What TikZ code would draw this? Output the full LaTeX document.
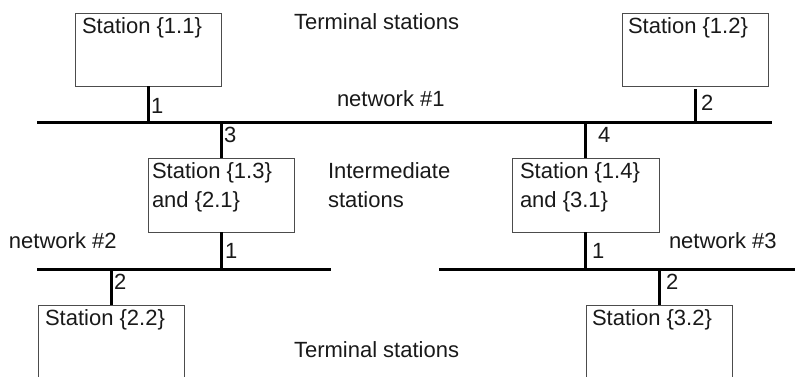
\documentclass[tikz,border=0pt]{standalone}
\usepackage{fontspec}
\setmainfont{Liberation Sans}
\begin{document}
\begin{tikzpicture}[x=1pt,y=-1pt,
  every node/.style={inner sep=0pt,outer sep=0pt},
  txt/.style={anchor=base west,font=\fontsize{22}{29}\selectfont,text=black!90},
  stationbox/.style={draw=black!70,line width=1pt,anchor=north west,minimum width=146pt,minimum height=73pt},
  tallbox/.style={stationbox,minimum height=110pt},
  bus/.style={line width=3pt},
  tap/.style={line width=3pt}]
\clip (0,0) rectangle (795,376);
% boxes
\node[stationbox] (b11) at (75,13) {};
\node[stationbox] (b12) at (622,13) {};
\node[stationbox,minimum width=146pt,minimum height=74pt] (b13) at (148,158) {};
\node[stationbox,minimum width=147pt,minimum height=74pt] (b14) at (512,158) {};
\node[tallbox] (b22) at (38,305) {};
\node[tallbox] (b32) at (586,305) {};
% box texts
\node[txt] (t11) at (82,33) {Station \{1.1\}};
\node[txt] (t12) at (628,33) {Station \{1.2\}};
\node[txt] (t13) at (152,178) {\begin{tabular}[t]{@{}l@{}}Station \{1.3\}\\and \{2.1\}\end{tabular}};
\node[txt] (t14) at (520,178) {\begin{tabular}[t]{@{}l@{}}Station \{1.4\}\\and \{3.1\}\end{tabular}};
\node[txt] (t22) at (45,325) {Station \{2.2\}};
\node[txt] (t32) at (592,325) {Station \{3.2\}};
% network lines
\coordinate (n1w) at (37,122);
\coordinate (n1e) at (772,122);
\coordinate (n2w) at (37,269);
\coordinate (n2e) at (331,269);
\coordinate (n3w) at (439,269);
\coordinate (n3e) at (800,269);
\draw[bus] (n1w) -- (n1e);
\draw[bus] (n2w) -- (n2e);
\draw[bus] (n3w) -- (n3e);
% taps
\draw[tap] (b11.south) -- (b11.south |- n1w);
\draw[tap] ([yshift=-3pt]b12.south) -- (b12.south |- n1w);
\draw[tap] (b13.north |- n1w) -- (b13.north);
\draw[tap] (b14.north |- n1w) -- (b14.north);
\draw[tap] (b13.south) -- (b13.south |- n2w);
\draw[tap] (b14.south) -- (b14.south |- n3w);
\draw[tap] (b22.north |- n2w) -- (b22.north);
\draw[tap] (b32.north |- n3w) -- (b32.north);
% tap labels
\node[txt] (l1) at (151,113) {1};
\node[txt] (l2) at (701,110) {2};
\node[txt] (l3) at (224,142) {3};
\node[txt] (l4) at (598,142) {4};
\node[txt] (l21) at (225,258) {1};
\node[txt] (l22) at (114,289) {2};
\node[txt] (l31) at (592,258) {1};
\node[txt] (l32) at (666,289) {2};
% captions
\node[txt] (term1) at (294,29) {Terminal stations};
\node[txt] (net1) at (337,106) {network \#1};
\node[txt] (inter) at (328,178) {\begin{tabular}[t]{@{}l@{}}Intermediate\\stations\end{tabular}};
\node[txt] (net2) at (9,248) {network \#2};
\node[txt] (net3) at (669,248) {network \#3};
\node[txt] (term2) at (294,357) {Terminal stations};
\end{tikzpicture}
\end{document}
